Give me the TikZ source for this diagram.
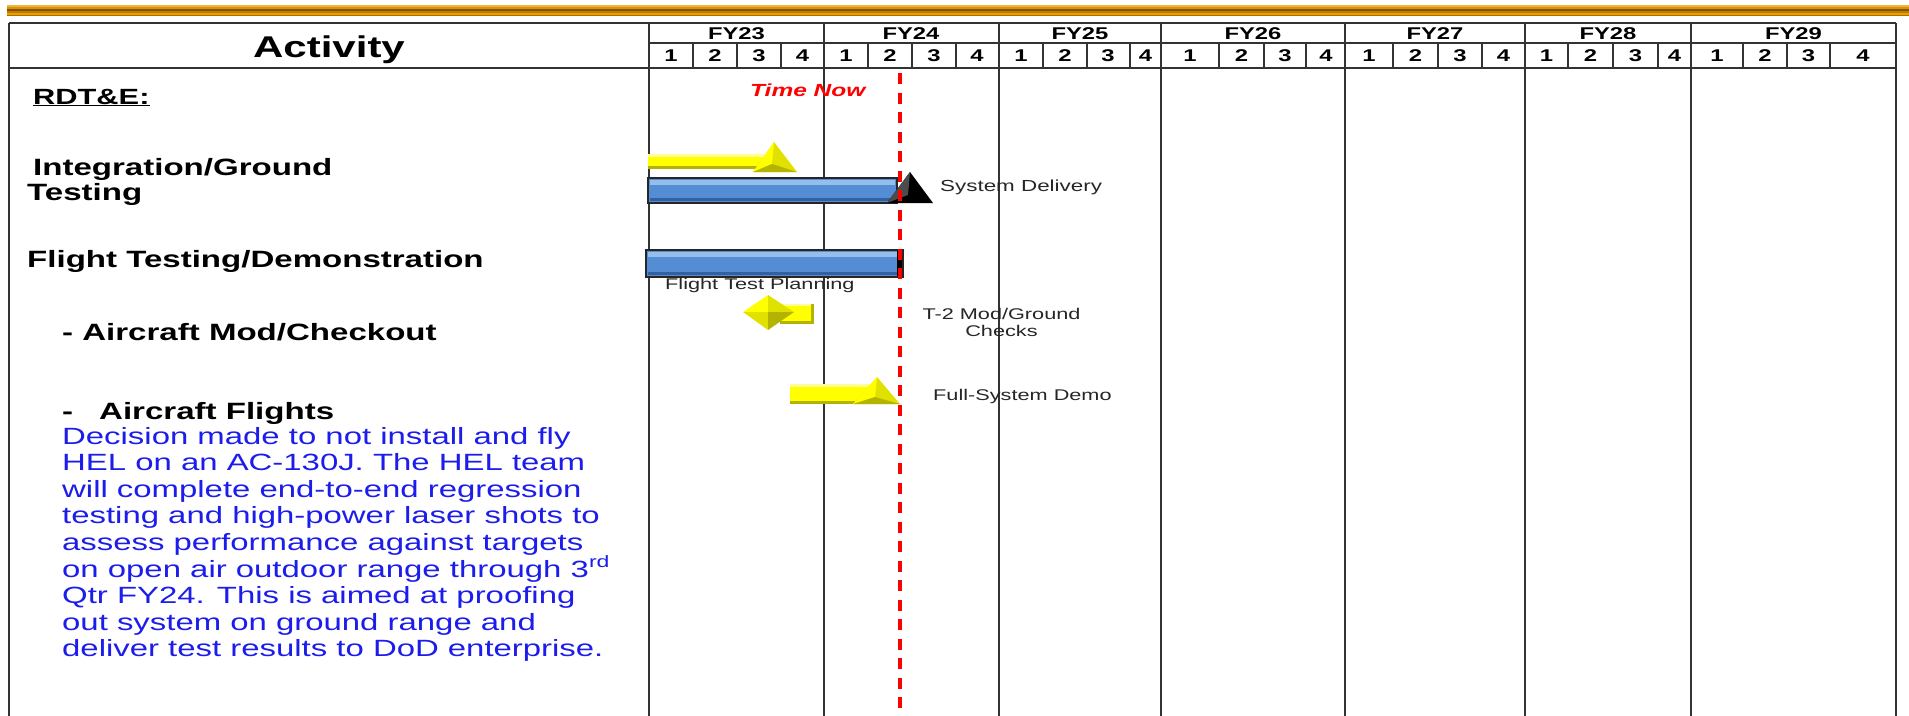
\documentclass[tikz,border=0pt]{standalone}
\usepackage{fontspec}
\setmainfont{Liberation Sans}[FakeStretch=1.4]
\definecolor{noteblue}{RGB}{28,28,235}
\definecolor{barblue}{RGB}{84,141,212}
\definecolor{barlight}{RGB}{150,190,236}
\definecolor{bardark}{RGB}{52,96,160}
\definecolor{ybright}{RGB}{255,255,0}
\definecolor{ylight}{RGB}{255,255,150}
\definecolor{ymid}{RGB}{225,225,0}
\definecolor{ydark}{RGB}{180,180,0}
\definecolor{gold1}{RGB}{240,180,60}
\definecolor{gold2}{RGB}{220,145,0}
\definecolor{gold3}{RGB}{130,82,0}
\definecolor{gold4}{RGB}{190,125,0}
\definecolor{gold5}{RGB}{235,160,0}
\definecolor{gold6}{RGB}{170,112,0}
\begin{document}
\begin{tikzpicture}[x=1pt,y=-1pt,
  tline/.style={draw=black!80, line width=1.8pt},
  qline/.style={draw=black!80, line width=1.4pt},
  hdr/.style={font=\bfseries\fontsize{23.6}{26}\selectfont, anchor=base west, inner sep=0pt},
  fylab/.style={font=\bfseries\fontsize{17}{20}\selectfont, anchor=base, inner sep=0pt},
  lbl/.style={font=\fontsize{15.5}{18}\selectfont, text=black!85, anchor=base west, inner sep=0pt},
  note/.style={font=\fontsize{23.5}{26}\selectfont, text=noteblue, anchor=base west, inner sep=0pt},
  ybar/.style={fill=ybright},
  bbar/.style={fill=barblue}]
\useasboundingbox (0,0) rectangle (1909,715);
\fill[white] (0,0) rectangle (1909,715);
% gold band
\fill[gold1] (7,5) rectangle (1909,6.5);
\fill[gold2] (7,6.5) rectangle (1909,8.5);
\fill[gold3] (7,8.5) rectangle (1909,10.5);
\fill[gold4] (7,10.5) rectangle (1909,12.5);
\fill[gold5] (7,12.5) rectangle (1909,14.5);
\fill[gold6] (7,14.5) rectangle (1909,16);
% table frame
\draw[tline] (9,23) -- (1896,23);
\draw[tline] (9,68) -- (1896,68);
\draw[tline] (649,43) -- (1896,43);
\draw[tline] (9,23) -- (9,716);
\foreach \x in {649,824,999,1161,1345,1525,1691,1896}
  \draw[tline] (\x,23) -- (\x,716);
\foreach \x in {693,737,781,868,912,956,1043,1087,1130,1219,1264,1306,1393,1438,1482,1568,1613,1658,1743,1787,1830}
  \draw[qline] (\x,43) -- (\x,68);
% header texts
\node[font=\bfseries\fontsize{30}{34}\selectfont, anchor=base, inner sep=0pt] (act) at (329,57) {Activity};
\foreach \x/\t [count=\i] in {736.5/FY23,911/FY24,1080/FY25,1253/FY26,1435/FY27,1608/FY28,1793.5/FY29}
  \node[fylab] (fy\i) at (\x,39) {\t};
\foreach \x/\t [count=\i] in {671/1,715/2,759/3,802.5/4,846/1,890/2,934/3,977/4,1021/1,1065/2,1108/3,1145.5/4,1190/1,1241.5/2,1285/3,1326/4,1369/1,1415.5/2,1460/3,1503.5/4,1546.5/1,1590.5/2,1635.5/3,1674.5/4,1717/1,1765/2,1808.5/3,1863/4}
  \node[fylab] (q\i) at (\x,61) {\t};
% activity texts
\node[hdr, font=\bfseries\fontsize{22}{26}\selectfont] (rdte) at (33,104) {\underline{RDT\&E:}};
\node[hdr] (intg) at (33,175) {Integration/Ground};
\node[hdr] (intt) at (27,200) {Testing};
\node[hdr] (flt) at (27,267) {Flight Testing/Demonstration};
\node[hdr] (mod) at (62,340) {- Aircraft Mod/Checkout};
\node[hdr] (afd) at (62,419) {-};
\node[hdr] (af) at (99,419) {Aircraft Flights};
\foreach \t [count=\i] in {Decision made to not install and fly,
  HEL on an AC-130J. The HEL team,
  will complete end-to-end regression,
  testing and high-power laser shots to,
  assess performance against targets,
  {on open air outdoor range through 3\textsuperscript{rd}},
  Qtr FY24. This is aimed at proofing,
  out system on ground range and,
  deliver test results to DoD enterprise.}
  \node[note] (n\i) at (62,{444+26.6*(\i-1)}) {\t};
% Integration yellow bar + milestone
\fill[ybar] (648,154) rectangle (764,169);
\fill[ylight] (648,154) rectangle (764,156.5);
\fill[ydark] (648,166) rectangle (764,169);
\fill[ymid] (774,142) -- (797,172) -- (753,172) -- cycle;
\fill[ybright] (774,142) -- (753,172) -- (772,164) -- cycle;
\fill[ydark] (753,172) -- (797,172) -- (772,164) -- cycle;
% Integration blue bar + black milestone
\fill[bbar] (648,178) rectangle (897,203);
\fill[barlight] (650,180) rectangle (895,185);
\fill[bardark] (650,198) rectangle (895,201);
\draw[black!85, line width=1.5pt] (648,178) rectangle (897,203);
\fill[black] (910,172) -- (933,203) -- (887,203) -- cycle;
\fill[black!70] (910,172) -- (887,203) -- (908,195) -- cycle;
\node[lbl, font=\fontsize{16}{19}\selectfont] (sysdel) at (940,191.5) {System Delivery};
% Flight testing blue bar
\fill[bbar] (646,250) rectangle (903,277);
\fill[barlight] (648,252) rectangle (898,257);
\fill[bardark] (648,272) rectangle (898,275);
\fill[black] (897,250) rectangle (903,277);
\draw[black!85, line width=1.5pt] (646,250) rectangle (903,277);
\node[lbl] (ftp) at (665,289) {Flight Test Planning};
% Aircraft mod diamond + bar
\fill[ybar] (780,304) rectangle (814,324);
\fill[ylight] (780,304) rectangle (814,306);
\fill[ydark] (780,321) rectangle (814,324);
\fill[ydark] (811,304) rectangle (814,324);
\fill[ybright] (743,312) -- (768,295) -- (768,312) -- cycle;
\fill[ymid] (768,295) -- (794,312) -- (768,312) -- cycle;
\fill[ymid] (743,312) -- (768,330) -- (768,312) -- cycle;
\fill[ydark] (794,312) -- (768,330) -- (768,312) -- cycle;
\node[lbl, anchor=base] (t2a) at (1001.5,319) {T-2 Mod/Ground};
\node[lbl, anchor=base] (t2b) at (1001.5,336) {Checks};
% Aircraft flights yellow bar + milestone
\fill[ybar] (790,384) rectangle (874,404);
\fill[ylight] (790,384) rectangle (874,386.5);
\fill[ydark] (790,401) rectangle (874,404);
\fill[ymid] (877,377) -- (900,404) -- (853,404) -- cycle;
\fill[ybright] (877,377) -- (853,404) -- (875,397) -- cycle;
\fill[ydark] (853,404) -- (900,404) -- (875,397) -- cycle;
\node[lbl] (fsd) at (933,400.5) {Full-System Demo};
% time now
\node[font=\bfseries\itshape\fontsize{17.5}{20}\selectfont, text=red, anchor=base west, inner sep=0pt] (tnow) at (750,96) {Time Now};
\coordinate (tntop) at (900,73);
\coordinate (tnbot) at (900,716);
\draw[red, line width=4.5pt, dash pattern=on 11pt off 8.5pt] (tntop) -- (tnbot);
\end{tikzpicture}
\end{document}
